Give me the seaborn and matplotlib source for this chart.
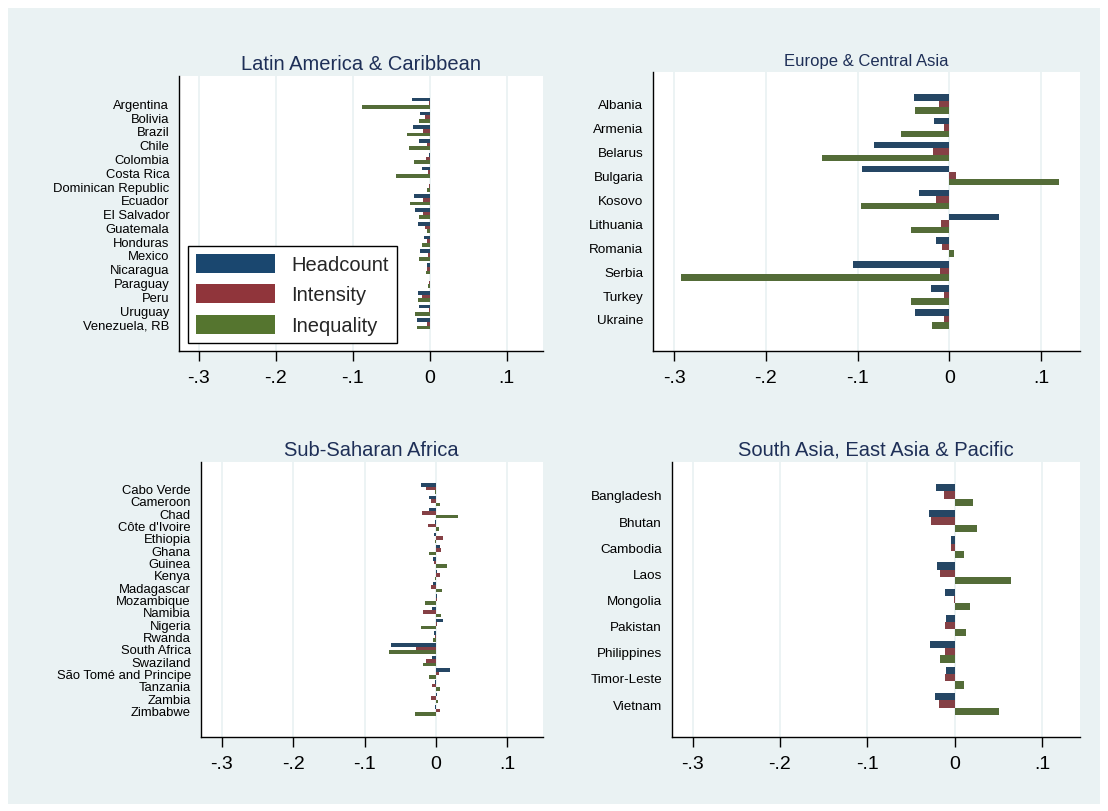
import matplotlib
matplotlib.use("Agg")
import matplotlib.pyplot as plt
from matplotlib.patches import Rectangle, Patch
import seaborn as sns
import pandas as pd

# ---------------- data ----------------
components = ["Headcount", "Intensity", "Inequality"]

lac_countries = ["Argentina", "Bolivia", "Brazil", "Chile", "Colombia", "Costa Rica",
                 "Dominican Republic", "Ecuador", "El Salvador", "Guatemala", "Honduras",
                 "Mexico", "Nicaragua", "Paraguay", "Peru", "Uruguay", "Venezuela, RB"]
lac_head = [-0.0225, -0.012, -0.022, -0.014, -0.001, -0.010, 0.001, -0.021, -0.0195,
            -0.0155, -0.008, -0.012, -0.004, 0.001, -0.0155, -0.014, -0.017]
lac_int = [-0.001, -0.0065, -0.009, -0.003, -0.005, -0.002, -0.0005, -0.009, -0.009,
           -0.0065, -0.0035, -0.002, -0.003, -0.001, -0.010, -0.001, -0.003]
lac_ineq = [-0.088, -0.014, -0.030, -0.027, -0.021, -0.044, -0.004, -0.026, -0.014,
            -0.004, -0.010, -0.014, -0.005, -0.0025, -0.0155, -0.0195, -0.017]

eca_countries = ["Albania", "Armenia", "Belarus", "Bulgaria", "Kosovo", "Lithuania",
                 "Romania", "Serbia", "Turkey", "Ukraine"]
eca_head = [-0.038, -0.0165, -0.082, -0.095, -0.033, 0.0545, -0.015, -0.105, -0.0195, -0.037]
eca_int = [-0.011, -0.0055, -0.0175, 0.0075, -0.015, -0.0085, -0.0075, -0.010, -0.0055, -0.0055]
eca_ineq = [-0.037, -0.0525, -0.139, 0.120, -0.096, -0.0415, 0.0055, -0.292, -0.0415, -0.0185]

ssa_countries = ["Cabo Verde", "Cameroon", "Chad", "Côte d'Ivoire", "Ethiopia", "Ghana",
                 "Guinea", "Kenya", "Madagascar", "Mozambique", "Namibia", "Nigeria",
                 "Rwanda", "South Africa", "Swaziland", "São Tomé and Principe",
                 "Tanzania", "Zambia", "Zimbabwe"]
ssa_head = [-0.021, -0.010, -0.010, -0.0015, -0.003, 0.0055, -0.004, 0.001, -0.004, 0.001,
            -0.0055, 0.010, -0.003, -0.063, -0.0055, 0.0195, -0.001, 0.001, -0.0015]
ssa_int = [-0.014, -0.007, -0.0195, -0.011, 0.010, 0.007, -0.003, 0.0055, -0.007, 0.0015,
           -0.018, 0.0015, -0.001, -0.028, -0.014, 0.004, -0.0055, -0.007, 0.0055]
ssa_ineq = [-0.0015, 0.0055, 0.031, 0.004, -0.0015, -0.010, 0.0155, -0.0015, 0.0085, -0.0155,
            0.007, -0.021, -0.004, -0.0655, -0.018, -0.010, 0.0055, 0.003, -0.029]

sap_countries = ["Bangladesh", "Bhutan", "Cambodia", "Laos", "Mongolia", "Pakistan",
                 "Philippines", "Timor-Leste", "Vietnam"]
sap_head = [-0.0215, -0.0295, -0.004, -0.020, -0.011, -0.010, -0.028, -0.010, -0.022]
sap_int = [-0.012, -0.027, -0.0045, -0.0165, -0.0005, -0.011, -0.011, -0.011, -0.0175]
sap_ineq = [0.0215, 0.026, 0.011, 0.064, 0.018, 0.0125, -0.0165, 0.011, 0.051]

x_ticks = [-0.3, -0.2, -0.1, 0.0, 0.1]
x_ticklabels = ["-.3", "-.2", "-.1", "0", ".1"]

# ---------------- style ----------------
sns.set_theme(style="white")
plt.rcParams["font.family"] = ["Liberation Sans", "DejaVu Sans"]

colors = {"Headcount": "#1A476F", "Intensity": "#90353B", "Inequality": "#55752F"}
bg = "#EAF2F3"
title_color = "#1E2F57"

fig = plt.figure(figsize=(11.08, 8.12), dpi=100, facecolor="white")
W, H = 1108.0, 812.0
fig.patches.append(Rectangle((8 / W, 1 - 805 / H), (1100 - 8) / W, (805 - 9) / H,
                             transform=fig.transFigure, facecolor=bg, edgecolor="none",
                             zorder=-10))


def make_df(countries, head, inten, ineq):
    rows = []
    for c, h, i, q in zip(countries, head, inten, ineq):
        rows.append((c, "Headcount", h))
        rows.append((c, "Intensity", i))
        rows.append((c, "Inequality", q))
    return pd.DataFrame(rows, columns=["country", "component", "value"])


panels = [
    ("Latin America & Caribbean", lac_countries, lac_head, lac_int, lac_ineq,
     (179, 76.7, 542.7, 351.7), (-0.326, 0.147), 9.4, 14.5, (2.0, 1.94), 0.8),
    ("Europe & Central Asia", eca_countries, eca_head, eca_int, eca_ineq,
     (653, 73, 1080, 351.7), (-0.323, 0.1425), 9.7, 12, (1.33, 1.33), 0.82),
    ("Sub-Saharan Africa", ssa_countries, ssa_head, ssa_int, ssa_ineq,
     (200.7, 462.7, 542.7, 737.7), (-0.3295, 0.1494), 9.4, 14.5, (2.18, 2.14), 0.85),
    ("South Asia, East Asia & Pacific", sap_countries, sap_head, sap_int, sap_ineq,
     (671.7, 462.7, 1080, 737.7), (-0.324, 0.1435), 9.7, 14.5, (1.27, 1.25), 0.83),
]

axes = []
for (title, countries, h, i, q, rect, xlim, ylsize, tsize, marg, bw) in panels:
    l, t, r, b = rect
    ax = fig.add_axes([l / W, 1 - b / H, (r - l) / W, (b - t) / H])
    ax.set_facecolor("white")
    df = make_df(countries, h, i, q)
    sns.barplot(data=df, x="value", y="country", hue="component", orient="h",
                order=countries, hue_order=components, palette=colors,
                errorbar=None, width=bw, linewidth=0, ax=ax, legend=False,
                zorder=3)
    n = len(countries)
    ax.set_ylim(n - 1 + marg[1], -marg[0])
    ax.set_xlim(*xlim)
    ax.set_xticks(x_ticks)
    ax.set_xticklabels(x_ticklabels, fontsize=14, color="black")
    ax.tick_params(axis="x", direction="out", length=7.5, width=1, color="black", pad=6,
                   bottom=True)
    ax.tick_params(axis="y", length=0, pad=7, labelsize=ylsize, labelcolor="black")
    ax.set_xlabel("")
    ax.set_ylabel("")
    ax.xaxis.grid(True, color=bg, linewidth=1.3)
    ax.yaxis.grid(False)
    ax.set_axisbelow(True)
    for s in ["top", "right"]:
        ax.spines[s].set_visible(False)
    for s in ["left", "bottom"]:
        ax.spines[s].set_visible(True)
        ax.spines[s].set_color("black")
        ax.spines[s].set_linewidth(1.0)
    ax.set_title(title, fontsize=tsize, color=title_color, pad=5)
    axes.append(ax)

handles = [Patch(facecolor=colors[c], edgecolor="none", label=c) for c in components]
leg = fig.legend(handles=handles, loc="lower left",
                 bbox_to_anchor=(187.7 / W, 1 - 344 / H), fontsize=14.5,
                 frameon=True, fancybox=False, framealpha=1, edgecolor="black",
                 handlelength=3.93, handleheight=1.08, handletextpad=0.83,
                 borderpad=0.4, labelspacing=0.5, borderaxespad=0)
leg.get_frame().set_linewidth(1.0)
leg.set_zorder(10)

fig.savefig("out.png", dpi=100, facecolor="white")
